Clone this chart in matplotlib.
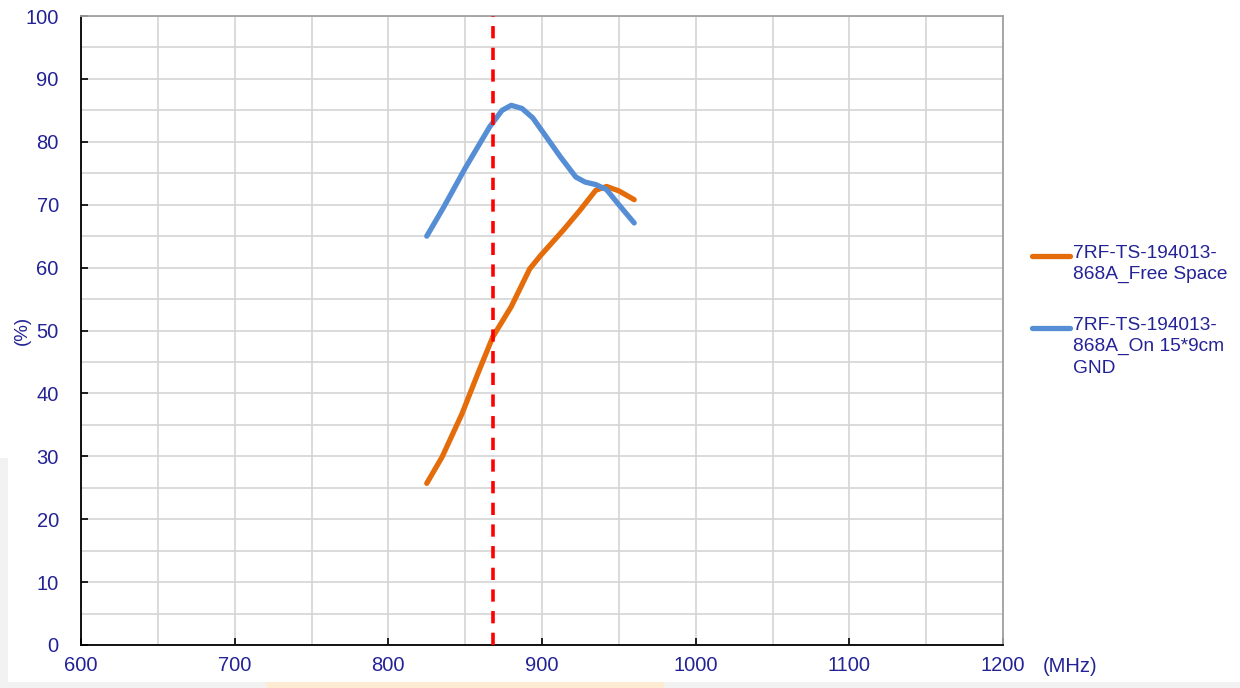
import matplotlib
matplotlib.use("Agg")
import matplotlib.pyplot as plt
from matplotlib.lines import Line2D
from matplotlib.patches import Rectangle
from matplotlib.ticker import MultipleLocator

plt.rcParams['font.family'] = ['Liberation Sans', 'DejaVu Sans']

# efficiency vs frequency
freq_free = [825, 835, 848, 858, 868, 880, 892, 899, 914, 925, 935, 942, 950, 960]
eff_free = [25.7, 29.9, 36.8, 43.0, 49.0, 53.8, 59.8, 61.9, 66.0, 69.2, 72.3, 72.9, 72.2, 70.8]

freq_gnd = [825, 836, 850, 866, 874, 880, 887, 894, 901, 912, 922, 928, 935, 942, 950, 960]
eff_gnd = [65.0, 69.6, 75.8, 82.4, 85.0, 85.8, 85.3, 83.8, 81.4, 77.6, 74.4, 73.6, 73.2, 72.4, 70.0, 67.1]

marker_freq = 868
labels = ['7RF-TS-194013-\n868A_Free Space', '7RF-TS-194013-\n868A_On 15*9cm\nGND']

TEXT = '#232396'
ORANGE = '#E46C0A'
BLUE = '#558ED5'
GRID = '#D4D4D4'

fig = plt.figure(figsize=(12.4, 6.88), dpi=100)
fig.patch.set_facecolor('white')

# screenshot border bits
fig.add_artist(Rectangle((0, 0), 8 / 1240, 230 / 688, transform=fig.transFigure,
                         facecolor='#F2F2F2', edgecolor='none', zorder=0))
fig.add_artist(Rectangle((0, 0), 1, 6 / 688, transform=fig.transFigure,
                         facecolor='#F2F2F2', edgecolor='none', zorder=0))
fig.add_artist(Rectangle((266 / 1240, 0), 398 / 1240, 6 / 688, transform=fig.transFigure,
                         facecolor='#FDEBD3', edgecolor='none', zorder=0))

ax = fig.add_axes([81 / 1240, 43 / 688, 922 / 1240, 629 / 688])

ax.plot(freq_free, eff_free, color=ORANGE, lw=3.8, solid_capstyle='round',
        solid_joinstyle='round', zorder=3)
ax.plot(freq_gnd, eff_gnd, color=BLUE, lw=3.8, solid_capstyle='round',
        solid_joinstyle='round', zorder=3)
ax.axvline(marker_freq, color='#FF0000', lw=2.6, linestyle=(0, (3.4, 2.6)), zorder=4)

ax.set_xlim(600, 1200)
ax.set_ylim(0, 100)
ax.xaxis.set_major_locator(MultipleLocator(100))
ax.xaxis.set_minor_locator(MultipleLocator(50))
ax.yaxis.set_major_locator(MultipleLocator(10))
ax.yaxis.set_minor_locator(MultipleLocator(5))
ax.grid(True, which='both', color=GRID, lw=1.2, zorder=0)
ax.set_axisbelow(True)

ax.tick_params(axis='both', which='major', direction='in', length=5, width=1.2,
               colors='black', labelcolor=TEXT, labelsize=14.5)
ax.tick_params(axis='both', which='minor', length=0)
ax.tick_params(axis='x', pad=8)
ax.tick_params(axis='y', pad=16)

for side in ('left', 'bottom'):
    ax.spines[side].set_color('black')
    ax.spines[side].set_linewidth(1.3)
for side in ('top', 'right'):
    ax.spines[side].set_color('#A0A0A0')
    ax.spines[side].set_linewidth(1.3)

fig.text(22 / 1240, 1 - 330 / 688, '(%)', rotation=90, color=TEXT, fontsize=13.5,
         ha='center', va='center')
fig.text(1043 / 1240, 1 - 667 / 688, '(MHz)', color=TEXT, fontsize=14.5,
         ha='left', va='center')

# legend drawn by hand, Excel style
legend_items = [(ORANGE, labels[0], 256), (BLUE, labels[1], 328)]
for color, text, ypix in legend_items:
    y = 1 - ypix / 688
    fig.add_artist(Line2D([1032 / 1240, 1070 / 1240], [y, y], transform=fig.transFigure,
                          color=color, lw=3.8, solid_capstyle='round'))
    fig.text(1073 / 1240, y + 11 / 688, text, color=TEXT, fontsize=13.8, ha='left',
             va='top', linespacing=1.32)

fig.savefig('out.png', dpi=100)
